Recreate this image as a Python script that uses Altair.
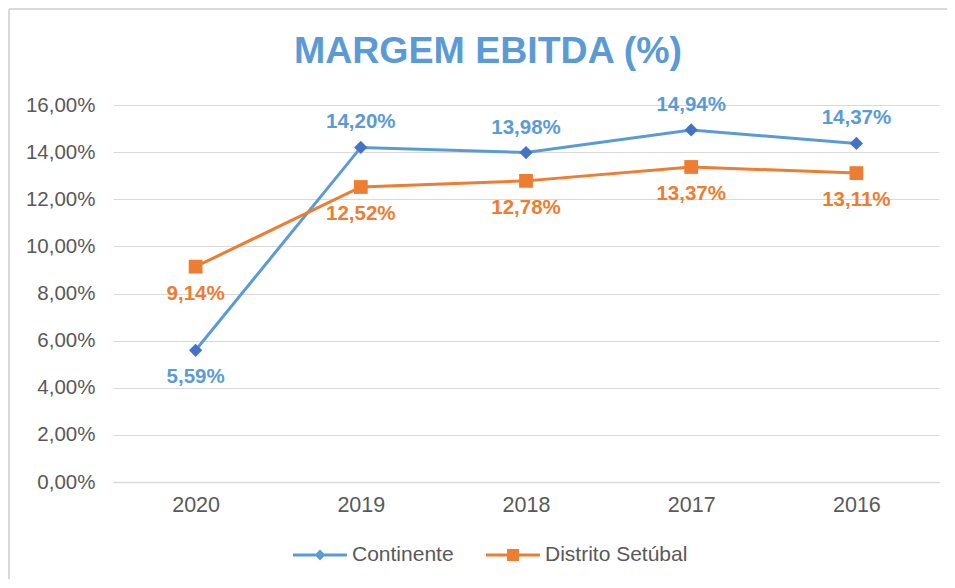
import altair as alt
import pandas as pd

years = ["2020", "2019", "2018", "2017", "2016"]
continente = [5.59, 14.20, 13.98, 14.94, 14.37]
setubal = [9.14, 12.52, 12.78, 13.37, 13.11]
series_names = ["Continente", "Distrito Setúbal"]
y_ticks = [0, 2, 4, 6, 8, 10, 12, 14, 16]

line_colors = ["#5B9BD5", "#ED7D31"]
marker_colors = ["#4472C4", "#ED7D31"]

rows = []
for y, v in zip(years, continente):
    rows.append({"year": y, "series": series_names[0], "value": v})
for y, v in zip(years, setubal):
    rows.append({"year": y, "series": series_names[1], "value": v})
df = pd.DataFrame(rows)

FONT = "Liberation Sans"
W, H = 826, 377

base = alt.Chart(df).transform_calculate(
    label="replace(format(datum.value, '.2f'), '.', ',') + '%'"
)

x = alt.X(
    "year:N",
    sort=years,
    scale=alt.Scale(type="point", padding=0.5),
    axis=alt.Axis(
        title=None, ticks=False, domain=True, domainColor="#D9D9D9", domainWidth=1.5,
        labelFont=FONT, labelFontSize=21.5, labelColor="#595959", labelPadding=12,
        labelAngle=0, grid=False,
    ),
)
y = alt.Y(
    "value:Q",
    scale=alt.Scale(domain=[0, 16], nice=False),
    axis=alt.Axis(
        title=None, values=y_ticks, ticks=False, domain=False, grid=True,
        gridColor="#D9D9D9", gridWidth=1,
        labelExpr="replace(format(datum.value, '.2f'), '.', ',') + '%'",
        labelFont=FONT, labelFontSize=20.5, labelColor="#595959", labelPadding=18,
    ),
)

cont = base.transform_filter(alt.datum.series == series_names[0])
setu = base.transform_filter(alt.datum.series == series_names[1])

line_c = cont.mark_line(strokeWidth=3, color=line_colors[0]).encode(x=x, y=y)
line_s = setu.mark_line(strokeWidth=3, color=line_colors[1]).encode(x=x, y=y)

pts_c = cont.mark_point(
    shape="diamond", filled=True, size=175, opacity=1, color=marker_colors[0]
).encode(x=x, y=y)
pts_s = setu.mark_point(
    shape="square", filled=True, size=190, opacity=1, color=marker_colors[1]
).encode(x=x, y=y)

txt = dict(font=FONT, fontSize=20.5, fontWeight="bold", baseline="middle")
lab_c_above = cont.transform_filter("datum.year != '2020'").mark_text(
    dy=-25, color=line_colors[0], **txt).encode(x=x, y=y, text="label:N")
lab_c_below = cont.transform_filter("datum.year == '2020'").mark_text(
    dy=27, color=line_colors[0], **txt).encode(x=x, y=y, text="label:N")
lab_s_below = setu.mark_text(
    dy=27, color=line_colors[1], **txt).encode(x=x, y=y, text="label:N")

# legend symbols: line segment plus marker, as custom paths
path_c = ("M-1,-0.055L1,-0.055L1,0.055L-1,0.055Z"
          "M0,-0.2L0.2,0L0,0.2L-0.2,0Z")
path_s = ("M-1,-0.055L1,-0.055L1,0.055L-1,0.055Z"
          "M-0.22,-0.22L0.22,-0.22L0.22,0.22L-0.22,0.22Z")
legend = alt.Legend(
    title=None, orient="none", direction="horizontal", legendX=180, legendY=423,
    symbolSize=2916, labelFont=FONT, labelFontSize=21, labelColor="#595959",
    labelOffset=5, columnPadding=32, symbolStrokeWidth=0, symbolOpacity=1,
)
color_scale = alt.Scale(domain=series_names, range=line_colors)
legend_layer = base.mark_point(filled=True, size=0, opacity=0).encode(
    x=x, y=y,
    color=alt.Color("series:N", scale=color_scale, legend=legend),
    shape=alt.Shape("series:N", scale=alt.Scale(domain=series_names, range=[path_c, path_s]), legend=legend),
)

frame_left = alt.Chart(df).mark_rule(color="#D9D9D9", strokeWidth=2).encode(
    x=alt.value(-104), y=alt.value(-96), y2=alt.value(474)
)
frame_top = alt.Chart(df).mark_rule(color="#D9D9D9", strokeWidth=2).encode(
    x=alt.value(-104), x2=alt.value(834), y=alt.value(-96)
)

chart = alt.layer(
    frame_left, frame_top, line_c, line_s, pts_c, pts_s,
    lab_c_above, lab_c_below, lab_s_below, legend_layer
).properties(
    width=W, height=H,
    autosize=alt.AutoSizeParams(type="none"),
    padding={"left": 105, "top": 97, "right": 8, "bottom": 98},
    title=alt.TitleParams(
        "MARGEM EBITDA (%)", font=FONT, fontSize=37.5, fontWeight="bold",
        color="#5B9BD5", anchor="middle", dx=-38, offset=-92, baseline="alphabetic",
    ),
).configure_view(stroke=None)

chart.save("out.html", embed_options={"renderer": "svg", "actions": False})
